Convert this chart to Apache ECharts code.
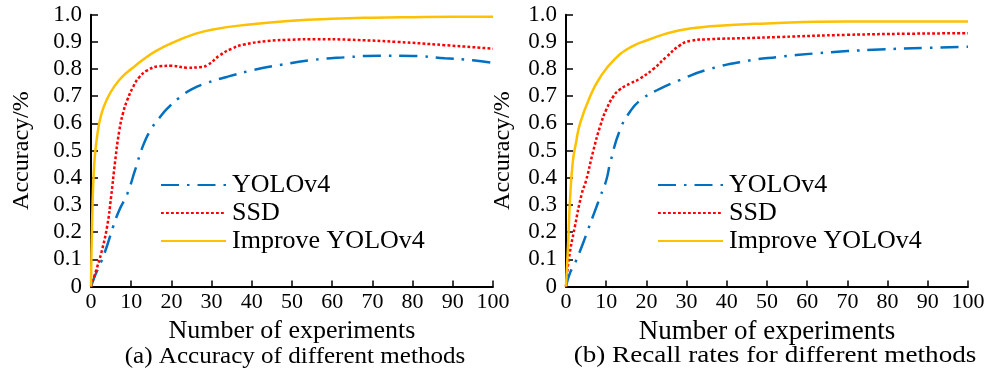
<!DOCTYPE html>
<html>
<head>
<meta charset="utf-8">
<script src="https://cdn.jsdelivr.net/npm/echarts@6/dist/echarts.min.js"></script>
<style>html,body{margin:0;padding:0;background:#fff}#c{width:990px;height:377px}</style>
</head>
<body>
<div id="c"></div>
<script>
// ---- Data: (a) Accuracy of different methods ----
const seriesNames = ['YOLOv4', 'SSD', 'Improve YOLOv4'];
const xTicks = [0, 10, 20, 30, 40, 50, 60, 70, 80, 90, 100];
const yTicks = [0, 0.1, 0.2, 0.3, 0.4, 0.5, 0.6, 0.7, 0.8, 0.9, 1.0];

const accYoloX = [0, 1, 2.5, 4, 5.5, 7, 9, 11, 13, 15, 17, 19, 22, 25, 29, 34, 40, 47, 55, 63, 72, 80, 88, 95, 100];
const accYoloY = [0, 0.04, 0.09, 0.15, 0.22, 0.28, 0.34, 0.43, 0.52, 0.58, 0.62, 0.655, 0.695, 0.725, 0.75, 0.772, 0.795, 0.815, 0.833, 0.843, 0.849, 0.848, 0.84, 0.832, 0.823];

const accSsdX = [0, 1.5, 2.5, 4, 5, 6, 7, 8, 9, 10.5, 12, 14, 17, 20, 24, 27, 29, 32, 35, 38, 44, 50, 56, 64, 76, 88, 100];
const accSsdY = [0, 0.07, 0.12, 0.22, 0.33, 0.46, 0.57, 0.64, 0.685, 0.735, 0.77, 0.795, 0.81, 0.812, 0.805, 0.807, 0.815, 0.85, 0.875, 0.89, 0.903, 0.908, 0.91, 0.908, 0.9, 0.888, 0.875];

const accImpX = [0, 0.3, 0.8, 1.5, 2.5, 4, 6, 8, 10, 13, 16, 20, 25, 30, 40, 50, 60, 70, 80, 90, 100];
const accImpY = [0, 0.25, 0.45, 0.55, 0.63, 0.69, 0.74, 0.775, 0.8, 0.835, 0.865, 0.895, 0.925, 0.945, 0.965, 0.978, 0.985, 0.989, 0.991, 0.992, 0.992];

// ---- Data: (b) Recall rates for different methods ----
const recYoloX = [0, 1, 2.2, 4, 5.5, 7, 8.5, 10, 11, 13.4, 16, 18.4, 22.6, 28.4, 35, 45, 53, 61.5, 70, 78, 90, 100];
const recYoloY = [0, 0.05, 0.085, 0.15, 0.21, 0.27, 0.33, 0.39, 0.455, 0.575, 0.645, 0.684, 0.722, 0.76, 0.797, 0.83, 0.845, 0.857, 0.866, 0.872, 0.878, 0.882];

const recSsdX = [0, 0.7, 2.2, 3.9, 5, 6.8, 8.5, 10, 11.8, 13.4, 16, 18.4, 21.7, 25, 28.4, 31, 36, 45, 53, 70, 85, 100];
const recSsdY = [0, 0.1, 0.22, 0.34, 0.39, 0.5, 0.59, 0.65, 0.7, 0.725, 0.747, 0.765, 0.8, 0.845, 0.888, 0.904, 0.91, 0.914, 0.918, 0.926, 0.93, 0.932];

const recImpX = [0, 0.5, 1, 1.7, 2.5, 3.5, 6, 8.5, 12, 16, 20, 28, 37, 50, 70, 100];
const recImpY = [0, 0.15, 0.32, 0.46, 0.53, 0.6, 0.7, 0.77, 0.835, 0.88, 0.905, 0.942, 0.958, 0.968, 0.975, 0.975];

const captions = ['(a) Accuracy of different methods', '(b) Recall rates for different methods'];
const xName = 'Number of experiments';
const yName = 'Accuracy/%';

const pair = (xs, ys) => xs.map((x, i) => [x, ys[i]]);
const FONT = 'Liberation Serif';
const colors = ['#0070C0', '#FF0000', '#FFC000'];
const dashes = [[18, 8, 2.5, 8], [2.8, 2.2], 'solid'];

const grids = [
  {left: 91, right: 497, top: 14.7, bottom: 90.5},
  {left: 566, right: 22, top: 14.7, bottom: 90.5}
];

function xAxis(gi, fs) {
  return {
    type: 'value', gridIndex: gi, min: 0, max: 100, interval: 10,
    name: xName, nameLocation: 'middle', nameGap: 28,
    nameTextStyle: {fontFamily: FONT, fontSize: fs, color: '#000'},
    axisLine: {lineStyle: {color: '#000', width: 2}},
    axisTick: {inside: true, length: 6, lineStyle: {color: '#000', width: 1.5}},
    axisLabel: {fontFamily: FONT, fontSize: 22, color: '#000', margin: 5},
    splitLine: {show: false}
  };
}
function yAxis(gi, gap) {
  return {
    type: 'value', gridIndex: gi, min: 0, max: 1, interval: 0.1,
    name: yName, nameLocation: 'middle', nameGap: gap,
    nameTextStyle: {fontFamily: FONT, fontSize: 24, color: '#000'},
    axisLine: {show: true, lineStyle: {color: '#000', width: 2}},
    axisTick: {show: true, inside: true, length: 7, lineStyle: {color: '#000', width: 1.5}},
    axisLabel: {fontFamily: FONT, fontSize: 23, color: '#000', margin: 9,
      formatter: v => (Math.abs(v) < 1e-9 ? '0' : v.toFixed(1))},
    splitLine: {show: false}
  };
}
function line(name, gi, data, k) {
  return {
    name, type: 'line', xAxisIndex: gi, yAxisIndex: gi, data,
    smooth: 0.5, symbol: 'none', showSymbol: false,
    lineStyle: {color: colors[k], width: 2.5, type: dashes[k]},
    itemStyle: {color: colors[k]}
  };
}
function legend(left) {
  return {
    data: seriesNames, orient: 'vertical', left, top: 171, padding: 0,
    itemWidth: 65, itemHeight: 14, itemGap: 0,
    itemStyle: {opacity: 0},
    textStyle: {fontFamily: FONT, fontSize: 26, color: '#000', lineHeight: 28, padding: [0, 0, 0, 1]}
  };
}

const chart = echarts.init(document.getElementById('c'), null, {renderer: 'canvas'});
chart.setOption({
  animation: false,
  backgroundColor: '#fff',
  grid: grids,
  xAxis: [xAxis(0, 26), xAxis(1, 27)],
  yAxis: [yAxis(0, 57), yAxis(1, 51)],
  legend: [legend(160), legend(657)],
  series: [
    line(seriesNames[0], 0, pair(accYoloX, accYoloY), 0),
    line(seriesNames[1], 0, pair(accSsdX, accSsdY), 1),
    line(seriesNames[2], 0, pair(accImpX, accImpY), 2),
    line(seriesNames[0], 1, pair(recYoloX, recYoloY), 0),
    line(seriesNames[1], 1, pair(recSsdX, recSsdY), 1),
    line(seriesNames[2], 1, pair(recImpX, recImpY), 2)
  ],
  graphic: [
    {type: 'text', x: 295, y: 357, scaleX: 1.09, style: {text: captions[0], fontFamily: FONT, fontSize: 23, fill: '#000', align: 'center', verticalAlign: 'middle'}},
    {type: 'text', x: 775, y: 356, scaleX: 1.18, style: {text: captions[1], fontFamily: FONT, fontSize: 23, fill: '#000', align: 'center', verticalAlign: 'middle'}}
  ]
});
</script>
</body>
</html>
